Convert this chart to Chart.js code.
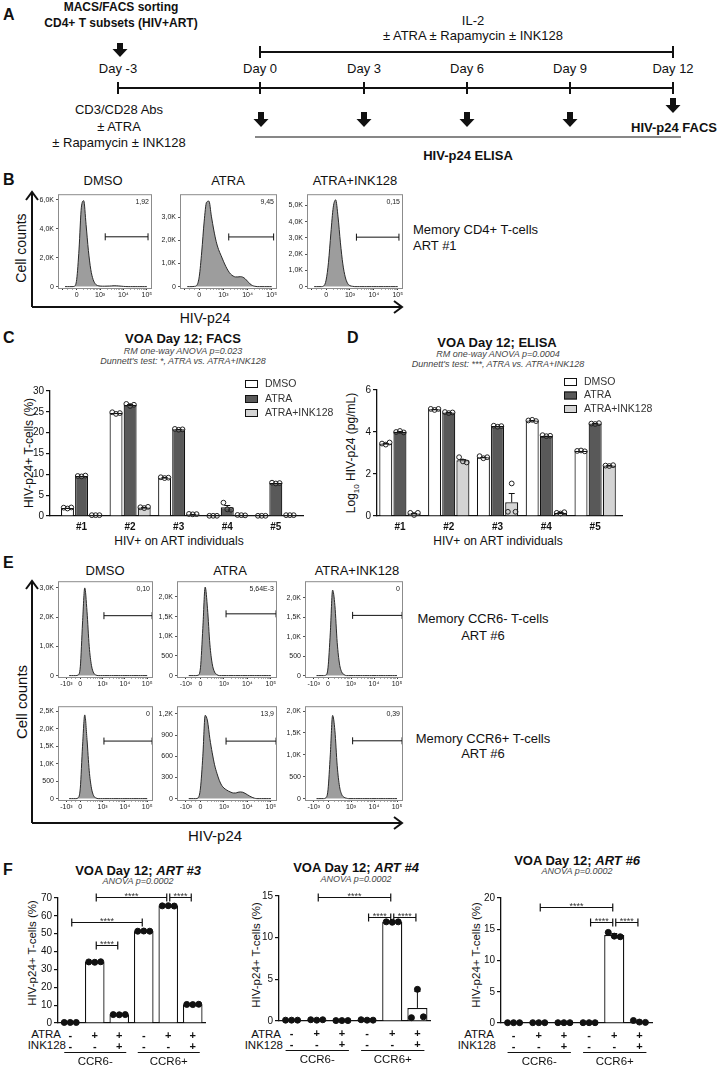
<!DOCTYPE html>
<html>
<head>
<meta charset="utf-8">
<title>ATRA / INK128 viral outgrowth</title>
<script src="https://cdn.jsdelivr.net/npm/chart.js@4.4.1/dist/chart.umd.min.js"></script>
<style>
  html, body { margin: 0; padding: 0; background: #fff; }
  #fig { position: relative; width: 718px; height: 1065px; overflow: hidden;
         font-family: "Liberation Sans", Arial, sans-serif; color: #111; }
  #fig canvas, #fig svg { position: absolute; }
  .t { position: absolute; white-space: nowrap; line-height: 1; transform: translate(-50%, -50%); font-size: 13px; }
  .t.l { transform: translate(0, -50%); }
  .t.r { transform: translate(-100%, -50%); }
  .t.v { transform: translate(-50%, -50%) rotate(-90deg); }
  .b { font-weight: bold; }
  .pl { font-weight: bold; font-size: 16px; }
  .st { font-style: italic; font-size: 9px; color: #444; }
  .ti { font-weight: bold; font-size: 13px; }
  .ax { font-size: 12px; }
  .sm { font-size: 11.5px; }
</style>
</head>
<body>
<div id="fig">

<svg width="718" height="1065" style="left:0;top:0" fill="none" stroke="#111">
  <!-- A: timeline -->
  <line x1="118" y1="88" x2="673" y2="88" stroke-width="2"/>
  <path d="M118 82V94M260 82V94M364 82V94M467 82V94M570 82V94M673 82V94" stroke-width="2"/>
  <line x1="260" y1="52" x2="673" y2="52" stroke-width="2"/>
  <path d="M260 46V58M673 46V58" stroke-width="2"/>
  <line x1="255" y1="137" x2="681" y2="137" stroke-width="1.2"/>
  <g fill="#111" stroke="none">
    <path d="M117 43H123V49H127.5L120 57L112.5 49H117Z"/>
    <path d="M258 112H264V119H268.5L261 127L253.5 119H258Z"/>
    <path d="M361 112H367V119H371.5L364 127L356.5 119H361Z"/>
    <path d="M464 112H470V119H474.5L467 127L459.5 119H464Z"/>
    <path d="M567 112H573V119H577.5L570 127L562.5 119H567Z"/>
    <path d="M670 98H676V105H680.5L673 113L665.5 105H670Z"/>
  </g>
  <!-- B and E: big axis arrows -->
  <path d="M32 307V193M26 200L32 192L38 200M32 307H402M394 301L402 307L394 313" stroke-width="2"/>
  <path d="M32 823V582M26 589L32 581L38 589M32 823H402M394 817L402 823L394 829" stroke-width="2"/>
</svg>

<!-- A -->
<div class="t l pl" style="left:3px;top:15px">A</div>
<div class="t b" style="left:121px;top:7px;font-size:12px">MACS/FACS sorting</div>
<div class="t b" style="left:121px;top:23px;font-size:12px">CD4+ T subsets (HIV+ART)</div>
<div class="t" style="left:473px;top:20px">IL-2</div>
<div class="t" style="left:473px;top:35px">± ATRA ± Rapamycin ± INK128</div>
<div class="t" style="left:118px;top:68px">Day -3</div>
<div class="t" style="left:260px;top:68px">Day 0</div>
<div class="t" style="left:364px;top:68px">Day 3</div>
<div class="t" style="left:467px;top:68px">Day 6</div>
<div class="t" style="left:570px;top:68px">Day 9</div>
<div class="t" style="left:673px;top:68px">Day 12</div>
<div class="t" style="left:119px;top:109px">CD3/CD28 Abs</div>
<div class="t" style="left:119px;top:126px">± ATRA</div>
<div class="t" style="left:119px;top:142px">± Rapamycin ± INK128</div>
<div class="t r b" style="left:717px;top:127px">HIV-p24 FACS</div>
<div class="t b" style="left:468px;top:155px">HIV-p24 ELISA</div>

<!-- B -->
<div class="t l pl" style="left:3px;top:180px">B</div>
<div class="t" style="left:103px;top:180px">DMSO</div>
<div class="t" style="left:228px;top:180px">ATRA</div>
<div class="t" style="left:355px;top:180px">ATRA+INK128</div>
<div class="t v" style="left:21px;top:248px;font-size:14px">Cell counts</div>
<div class="t" style="left:205px;top:318px;font-size:14px">HIV-p24</div>
<div class="t l" style="left:413px;top:229px">Memory CD4+ T-cells</div>
<div class="t l" style="left:413px;top:245px">ART #1</div>

<!-- C -->
<div class="t l pl" style="left:3px;top:338px">C</div>
<div class="t ti" style="left:183px;top:338px">VOA Day 12; FACS</div>
<div class="t st" style="left:183px;top:351px">RM one-way ANOVA p=0.023</div>
<div class="t st" style="left:183px;top:361px">Dunnett's test: *, ATRA vs. ATRA+INK128</div>
<div class="t v ax" style="left:29px;top:453px">HIV-p24+ T-cells (%)</div>
<div class="t ax" style="left:179px;top:541px">HIV+ on ART individuals</div>

<!-- D -->
<div class="t l pl" style="left:347px;top:338px">D</div>
<div class="t ti" style="left:497px;top:342px">VOA Day 12; ELISA</div>
<div class="t st" style="left:498px;top:354px">RM one-way ANOVA p=0.0004</div>
<div class="t st" style="left:498px;top:364px">Dunnett's test: ***, ATRA vs. ATRA+INK128</div>
<div class="t v ax" style="left:353px;top:453px">Log<sub style="font-size:8px">10</sub> HIV-p24 (pg/mL)</div>
<div class="t ax" style="left:498px;top:541px">HIV+ on ART individuals</div>

<!-- E -->
<div class="t l pl" style="left:3px;top:563px">E</div>
<div class="t" style="left:105px;top:570px">DMSO</div>
<div class="t" style="left:230px;top:570px">ATRA</div>
<div class="t" style="left:357px;top:570px">ATRA+INK128</div>
<div class="t v" style="left:21px;top:702px;font-size:15px">Cell counts</div>
<div class="t" style="left:215px;top:835px;font-size:15px">HIV-p24</div>
<div class="t" style="left:483px;top:618px">Memory CCR6- T-cells</div>
<div class="t" style="left:483px;top:635px">ART #6</div>
<div class="t" style="left:483px;top:738px">Memory CCR6+ T-cells</div>
<div class="t" style="left:483px;top:753px">ART #6</div>

<!-- F -->
<div class="t l pl" style="left:3px;top:870px">F</div>
<div class="t ti" style="left:138px;top:870px">VOA Day 12; <i>ART #3</i></div>
<div class="t st" style="left:138px;top:881px">ANOVA p=0.0002</div>
<div class="t ti" style="left:356px;top:867px">VOA Day 12; <i>ART #4</i></div>
<div class="t st" style="left:356px;top:879px">ANOVA p=0.0002</div>
<div class="t ti" style="left:577px;top:860px">VOA Day 12; <i>ART #6</i></div>
<div class="t st" style="left:577px;top:871px">ANOVA p=0.0002</div>
<div class="t v sm" style="left:33px;top:953px">HIV-p24+ T-cells (%)</div>
<div class="t v sm" style="left:257px;top:955px">HIV-p24+ T-cells (%)</div>
<div class="t v sm" style="left:477px;top:955px">HIV-p24+ T-cells (%)</div>
<div class="t r sm" style="left:61px;top:1035px">ATRA</div>
<div class="t r sm" style="left:66px;top:1046px">INK128</div>
<div class="t r sm" style="left:281px;top:1035px">ATRA</div>
<div class="t r sm" style="left:283px;top:1046px">INK128</div>
<div class="t r sm" style="left:494px;top:1035px">ATRA</div>
<div class="t r sm" style="left:496px;top:1046px">INK128</div>

</div>

<script>
// ---------- B / E: HIV-p24 histograms ----------
// x = position on the biexponential HIV-p24 axis (0 -> 0, 1 -> 10^3, 2 -> 10^4, 3 -> 10^5)
const p24Grid = [-0.5, -0.4, -0.3, -0.2, -0.1, 0, 0.1, 0.2, 0.3, 0.4, 0.5, 0.6, 0.7, 0.8, 0.9,
                 1.0, 1.1, 1.2, 1.3, 1.4, 1.5, 1.6, 1.7, 1.8, 1.9, 2.0, 2.1, 2.2, 2.3, 2.4,
                 2.5, 2.6, 2.7, 2.8, 2.9, 3.0];
const p24TickPos = [-0.62, 0, 1, 2, 3];
const p24TickText = ['-10³', '0', '10³', '10⁴', '10⁵'];

// memory CD4+ T-cells, ART #1 (cell counts)
const cd4Dmso = [0, 0, 0, 0, 20, 500, 2600, 5500, 5950, 4300, 2500, 1200, 500, 180, 70,
                 40, 30, 30, 35, 40, 50, 60, 55, 45, 30, 15, 5, 0, 0, 0, 0, 0, 0, 0, 0, 0];
const cd4Atra = [0, 0, 0, 10, 60, 450, 1500, 2800, 3650, 3700, 3050, 2450, 1950, 1600, 1350,
                 1100, 870, 680, 540, 460, 420, 420, 430, 410, 340, 230, 120, 50, 15, 0, 0, 0, 0, 0, 0, 0];
const cd4Ink = [0, 0, 0, 0, 40, 400, 1500, 3300, 4900, 5350, 4300, 2700, 1400, 600, 200,
                60, 20, 0, 0, 0, 0, 0, 0, 0, 0, 0, 0, 0, 0, 0, 0, 0, 0, 0, 0, 0];
const cd4YMax = [6400, 4000, 5700];
const cd4YTicks = [[0, 2000, 4000, 6000], [0, 1000, 2000, 3000], [0, 1000, 2000, 3000, 4000, 5000]];
const cd4Gates = [[1.22, 3.05, 3450], [1.22, 3.08, 2150], [1.27, 3.05, 3050]];
const cd4GateText = ['1,92', '9,45', '0,15'];

// memory CCR6- / CCR6+ T-cells, ART #6 (cell counts)
const ccr6nDmso = [0, 0, 0, 0, 20, 300, 1800, 3000, 2200, 1000, 350, 90, 20, 0, 0,
                   0, 0, 0, 0, 0, 0, 0, 0, 0, 0, 0, 0, 0, 0, 0, 0, 0, 0, 0, 0, 0];
const ccr6nAtra = [0, 0, 0, 0, 10, 200, 1200, 2250, 1700, 800, 300, 90, 25, 0, 0,
                   0, 0, 0, 0, 0, 0, 0, 0, 0, 0, 0, 0, 0, 0, 0, 0, 0, 0, 0, 0, 0];
const ccr6nInk = [0, 0, 0, 0, 10, 200, 1100, 2200, 1800, 850, 300, 90, 25, 0, 0,
                  0, 0, 0, 0, 0, 0, 0, 0, 0, 0, 0, 0, 0, 0, 0, 0, 0, 0, 0, 0, 0];
const ccr6pDmso = [0, 0, 0, 0, 20, 300, 1500, 2400, 1700, 800, 300, 80, 20, 0, 0,
                   0, 0, 0, 0, 0, 0, 0, 0, 0, 0, 0, 0, 0, 0, 0, 0, 0, 0, 0, 0, 0];
const ccr6pAtra = [0, 0, 0, 0, 10, 150, 600, 1180, 1100, 850, 650, 480, 360, 260, 190,
                   150, 125, 105, 90, 80, 80, 90, 95, 90, 75, 55, 35, 18, 6, 0, 0, 0, 0, 0, 0, 0];
const ccr6pInk = [0, 0, 0, 0, 15, 200, 1000, 1900, 1550, 750, 280, 90, 30, 10, 0,
                  0, 0, 0, 0, 0, 0, 0, 0, 0, 0, 0, 0, 0, 0, 0, 0, 0, 0, 0, 0, 0];
const ccr6YMax = [3230, 2400, 2430, 2650, 1310, 2110];
const ccr6YTicks = [[0, 1000, 2000, 3000], [0, 500, 1000, 1500, 2000], [0, 500, 1000, 1500, 2000],
                    [0, 500, 1000, 1500, 2000, 2500], [0, 300, 600, 900, 1200], [0, 500, 1000, 1500, 2000]];
const ccr6Gates = [[1.06, 3.22, 2050], [1.09, 3.22, 1570], [1.07, 3.22, 1550],
                   [1.06, 3.22, 1650], [1.09, 3.22, 815], [1.07, 3.22, 1320]];
const ccr6GateText = ['0,10', '5,64E-3', '0', '0', '13,9', '0,39'];

// ---------- C / D: viral outgrowth per individual ----------
const individuals = ['#1', '#2', '#3', '#4', '#5'];
const treatments = ['DMSO', 'ATRA', 'ATRA+INK128'];

// C: % HIV-p24+ T-cells (bar = mean, dots = triplicates)
const facsDmso = [1.95, 24.7, 9.2, 0.05, 0.05];
const facsAtra = [9.6, 26.65, 20.8, 2.1, 7.9];
const facsInk = [0.2, 2.05, 0.45, 0.2, 0.2];
const facsDmsoReps = [[2.0, 1.8, 2.05], [24.9, 24.5, 24.7], [9.3, 9.1, 9.2], [0.05, 0.05, 0.05], [0.05, 0.05, 0.05]];
const facsAtraReps = [[9.6, 9.5, 9.7], [26.9, 26.4, 26.7], [20.9, 20.7, 20.8], [3.2, 1.6, 1.5], [8.0, 7.8, 7.9]];
const facsInkReps = [[0.2, 0.2, 0.2], [2.1, 1.9, 2.2], [0.5, 0.4, 0.45], [0.25, 0.2, 0.15], [0.2, 0.2, 0.2]];
const facsDmsoSem = [0.08, 0.12, 0.06, 0, 0];
const facsAtraSem = [0.06, 0.15, 0.06, 0.55, 0.06];
const facsInkSem = [0, 0.09, 0.03, 0.03, 0];
const facsTicks = [0, 5, 10, 15, 20, 25, 30];

// D: log10 HIV-p24 (pg/mL)
const elisaDmso = [3.45, 5.08, 2.8, 4.55, 3.1];
const elisaAtra = [4.01, 4.93, 4.28, 3.82, 4.4];
const elisaInk = [0.12, 2.65, 0.65, 0.15, 2.4];
const elisaDmsoReps = [[3.45, 3.4, 3.5], [5.1, 5.05, 5.1], [2.85, 2.75, 2.8], [4.55, 4.58, 4.52], [3.1, 3.12, 3.08]];
const elisaAtraReps = [[4.0, 4.05, 3.98], [4.95, 4.9, 4.93], [4.3, 4.25, 4.28], [3.85, 3.8, 3.82], [4.4, 4.38, 4.42]];
const elisaInkReps = [[0.15, 0.05, 0.15], [2.8, 2.6, 2.55], [0.2, 1.55, 0.2], [0.15, 0.12, 0.18], [2.4, 2.38, 2.42]];
const elisaDmsoSem = [0.03, 0.02, 0.03, 0.02, 0.01];
const elisaAtraSem = [0.02, 0.01, 0.01, 0.01, 0.01];
const elisaInkSem = [0.03, 0.08, 0.45, 0.02, 0.01];
const elisaTicks = [0, 2, 4, 6];

// ---------- F: CCR6- / CCR6+ subsets ----------
const ccr6Groups = ['CCR6-', 'CCR6+'];
const atraSigns = ['-', '+', '+', '-', '+', '+'];
const inkSigns = ['-', '-', '+', '-', '-', '+'];

const art3Mean = [0.3, 34.1, 4.7, 51.4, 65.6, 10.4];
const art3Reps = [[0.3, 0.3, 0.3], [34.2, 34.0, 34.3], [4.7, 4.6, 4.7], [51.4, 51.5, 51.4], [65.6, 65.7, 65.5], [10.4, 10.3, 10.5]];
const art3Err = [0, 0.1, 0.05, 0.05, 0.1, 0.1];
const art3Ticks = [0, 10, 20, 30, 40, 50, 60, 70];
const art3Brackets = [[1, 4, 70.8], [4, 5, 70.8], [0, 3, 56.7], [1, 2, 43.8]];

const art4Mean = [0.1, 0.13, 0.05, 0.12, 11.88, 1.57];
const art4Reps = [[0.1, 0.1, 0.1], [0.15, 0.1, 0.15], [0.05, 0.05, 0.05], [0.15, 0.1, 0.1], [11.9, 11.85, 11.9], [0.4, 3.8, 0.5]];
const art4Err = [0, 0, 0, 0, 0.03, 2.05];
const art4Ticks = [0, 5, 10, 15];
const art4Brackets = [[1, 4, 14.9], [3, 4, 12.5], [4, 5, 12.5]];

const art6Mean = [0.05, 0.05, 0.05, 0.05, 14.07, 0.22];
const art6Reps = [[0.05, 0.05, 0.05], [0.05, 0.05, 0.05], [0.05, 0.05, 0.05], [0.05, 0.05, 0.05], [14.5, 13.9, 13.8], [0.4, 0.15, 0.1]];
const art6Err = [0, 0, 0, 0, 0.38, 0.16];
const art6Ticks = [0, 5, 10, 15, 20];
const art6Brackets = [[1, 4, 18.6], [3, 4, 16.2], [4, 5, 16.2]];

// ---------- styles ----------
const FONT = '"Liberation Sans", Arial, sans-serif';
Chart.defaults.font.family = FONT;
Chart.defaults.color = '#111';
const treatmentColors = ['#ffffff', '#595959', '#d4d4d4'];
const openDot = { r: 2.4, gap: 3.8, fill: null, stroke: '#222', w: 1 };
const solidDot = { r: 3, gap: 6, fill: '#111', stroke: '#111', w: 1 };

// minor ticks of the HIV-p24 axis
const p24Minor = [-0.2, -0.4];
[0, 1, 2].forEach(k => [2, 3, 4, 5, 6, 7, 8, 9].forEach(n => p24Minor.push(k + Math.log10(n))));
const p24AllTicks = p24TickPos.concat(p24Minor).sort((a, b) => a - b);

const countLabel = v => v === 0 ? '0' : v < 1000 ? String(v) : (v / 1000).toFixed(1).replace('.', ',') + 'K';

function addCanvas(id, area, m) {
  const c = document.createElement('canvas');
  c.id = id;
  c.width = area.r - area.l + m.l + m.r;
  c.height = area.b - area.t + m.t + m.b;
  c.style.left = (area.l - m.l) + 'px';
  c.style.top = (area.t - m.t) + 'px';
  document.getElementById('fig').appendChild(c);
  return c;
}

function baseOptions(m) {
  return {
    responsive: false, animation: false, events: [], devicePixelRatio: 1,
    layout: { padding: { top: m.t, right: m.r, left: 0, bottom: 0 } },
    plugins: { legend: { display: false }, tooltip: { enabled: false } }
  };
}

// frame and gate frequency for a FACS overlay
function facsFrame(text) {
  return {
    id: 'facsFrame',
    afterDraw(chart) {
      const { ctx, chartArea: a } = chart;
      ctx.save();
      ctx.strokeStyle = '#8c8c8c';
      ctx.lineWidth = 1;
      ctx.strokeRect(a.left + 0.5, a.top + 0.5, a.right - a.left - 1, a.bottom - a.top);
      ctx.fillStyle = '#222';
      ctx.font = '7px ' + FONT;
      ctx.textAlign = 'right';
      ctx.textBaseline = 'middle';
      ctx.fillText(text, a.right - 3, a.top + 8);
      ctx.restore();
    }
  };
}

function histogram(id, area, xr, counts, yMax, yTicks, gate, gateText, showNeg) {
  const m = { l: 32, t: 6, r: 6, b: 20 };
  return new Chart(addCanvas(id, area, m), {
    type: 'line',
    data: {
      datasets: [
        { data: p24Grid.map((x, i) => ({ x, y: counts[i] })), fill: 'origin',
          backgroundColor: '#9d9d9d', borderColor: '#2a2a2a', borderWidth: 1,
          pointRadius: 0, cubicInterpolationMode: 'monotone' },
        { data: [{ x: gate[0], y: gate[2] }, { x: gate[1], y: gate[2] }], fill: false,
          borderColor: '#111', borderWidth: 1, pointStyle: 'line', pointRotation: 90,
          pointRadius: 3.5, pointBorderColor: '#111', pointBorderWidth: 1 }
      ]
    },
    options: Object.assign(baseOptions(m), {
      scales: {
        x: {
          type: 'linear', min: xr[0], max: xr[1],
          afterBuildTicks: s => { s.ticks = p24AllTicks.map(v => ({ value: v })); },
          afterFit: s => { s.height = m.b; },
          ticks: {
            autoSkip: false, maxRotation: 0, padding: 1, font: { size: 7 }, color: '#222',
            callback: v => {
              const k = p24TickPos.indexOf(v);
              if (k < 0 || (k === 0 && !showNeg)) return '';
              return p24TickText[k];
            }
          },
          grid: { drawOnChartArea: false, tickLength: 2,
                  color: c => (c.tick && p24TickPos.includes(c.tick.value)) ? '#333' : '#aaa' },
          border: { display: false }
        },
        y: {
          min: -yMax * 0.015, max: yMax,
          afterBuildTicks: s => { s.ticks = yTicks.map(v => ({ value: v })); },
          afterFit: s => { s.width = m.l; },
          ticks: { autoSkip: false, padding: 2, font: { size: 7 }, color: '#222', callback: countLabel },
          grid: { drawOnChartArea: false, tickLength: 2, color: '#555' },
          border: { display: false }
        }
      }
    }),
    plugins: [facsFrame(gateText)]
  });
}

function valueAxis(max, ticks, width) {
  return {
    min: 0, max,
    afterBuildTicks: s => { s.ticks = ticks.map(v => ({ value: v })); },
    afterFit: s => { s.width = width; },
    ticks: { autoSkip: false, padding: 2, font: { size: 10 }, color: '#111' },
    grid: { drawOnChartArea: false, tickLength: 4, color: '#111', lineWidth: 1.2 },
    border: { display: true, color: '#111', width: 1.3 }
  };
}

// replicate dots and upper error bars on top of each bar
function dotsPlugin(reps, errs, dot) {
  return {
    id: 'dots',
    afterDatasetsDraw(chart) {
      const ctx = chart.ctx, y = chart.scales.y;
      ctx.save();
      reps.forEach((series, d) => {
        const meta = chart.getDatasetMeta(d);
        series.forEach((vals, i) => {
          const bar = meta.data[i];
          const raw = chart.data.datasets[d].data[i];
          const mean = typeof raw === 'object' ? raw.y : raw;
          if (errs[d][i] > 0) {
            const top = Math.round(y.getPixelForValue(mean + errs[d][i])) + 0.5;
            ctx.strokeStyle = '#111';
            ctx.lineWidth = 1;
            ctx.beginPath();
            ctx.moveTo(bar.x, bar.y);
            ctx.lineTo(bar.x, top);
            ctx.moveTo(bar.x - 3, top);
            ctx.lineTo(bar.x + 3, top);
            ctx.stroke();
          }
          vals.forEach((v, k) => {
            ctx.beginPath();
            ctx.arc(bar.x + (k - 1) * dot.gap, y.getPixelForValue(v), dot.r, 0, Math.PI * 2);
            if (dot.fill) { ctx.fillStyle = dot.fill; ctx.fill(); }
            ctx.strokeStyle = dot.stroke;
            ctx.lineWidth = dot.w;
            ctx.stroke();
          });
        });
      });
      ctx.restore();
    }
  };
}

function keyPlugin(pos) {
  return {
    id: 'key',
    afterDraw(chart) {
      const ctx = chart.ctx;
      ctx.save();
      ctx.font = '10.5px ' + FONT;
      ctx.textBaseline = 'middle';
      chart.data.datasets.forEach((ds, i) => {
        const cy = pos.rows[i];
        ctx.fillStyle = ds.backgroundColor;
        ctx.fillRect(pos.x, cy - 4, 13, 8);
        ctx.strokeStyle = '#111';
        ctx.lineWidth = 1;
        ctx.strokeRect(pos.x + 0.5, cy - 3.5, 12, 7);
        ctx.fillStyle = '#333';
        ctx.fillText(ds.label, pos.x + 20, cy);
      });
      ctx.restore();
    }
  };
}

function bracketPlugin(brackets) {
  return {
    id: 'brackets',
    afterDatasetsDraw(chart) {
      const ctx = chart.ctx, x = chart.scales.x, y = chart.scales.y;
      ctx.save();
      ctx.strokeStyle = '#111';
      ctx.lineWidth = 1.2;
      ctx.fillStyle = '#333';
      ctx.font = '9px ' + FONT;
      ctx.textAlign = 'center';
      brackets.forEach(([a, b, v]) => {
        const x1 = x.getPixelForValue(a) + 1.5, x2 = x.getPixelForValue(b) - 1.5;
        const py = Math.round(y.getPixelForValue(v)) + 0.5;
        ctx.beginPath();
        ctx.moveTo(x1, py); ctx.lineTo(x2, py);
        ctx.moveTo(x1, py - 4); ctx.lineTo(x1, py + 4);
        ctx.moveTo(x2, py - 4); ctx.lineTo(x2, py + 4);
        ctx.stroke();
        ctx.fillText('****', (x1 + x2) / 2, py + 1);
      });
      ctx.restore();
    }
  };
}

// CCR6- / CCR6+ underlines below the +/- rows
function groupPlugin() {
  return {
    id: 'groups',
    afterDraw(chart) {
      const ctx = chart.ctx, x = chart.scales.x, base = chart.chartArea.bottom;
      ctx.save();
      ctx.strokeStyle = '#111';
      ctx.lineWidth = 1;
      ctx.fillStyle = '#111';
      ctx.font = '11.5px ' + FONT;
      ctx.textAlign = 'center';
      ctx.textBaseline = 'middle';
      ccr6Groups.forEach((name, g) => {
        const x1 = x.getPixelForValue(g * 3) - 6, x2 = x.getPixelForValue(g * 3 + 2) + 7;
        ctx.beginPath();
        ctx.moveTo(x1, base + 29.5); ctx.lineTo(x2, base + 29.5);
        ctx.stroke();
        ctx.fillText(name, (x1 + x2) / 2, base + 38.5);
      });
      ctx.restore();
    }
  };
}

function outgrowthChart(id, area, m, means, reps, errs, yMax, yTicks, xr, key) {
  return new Chart(addCanvas(id, area, m), {
    type: 'bar',
    data: {
      datasets: treatments.map((name, d) => ({
        label: name,
        data: means[d].map((v, i) => ({ x: i + 1, y: v })),
        backgroundColor: treatmentColors[d], borderColor: '#111', borderWidth: 1.2,
        categoryPercentage: 0.87, barPercentage: 0.92
      }))
    },
    options: Object.assign(baseOptions(m), {
      scales: {
        x: {
          type: 'linear', offset: false, min: xr[0], max: xr[1],
          afterBuildTicks: s => { s.ticks = individuals.map((_, i) => ({ value: i + 1 })); },
          afterFit: s => { s.height = m.b; },
          ticks: { autoSkip: false, maxRotation: 0, padding: 5, font: { size: 10, weight: 'bold' },
                   color: '#111', callback: v => individuals[v - 1] },
          grid: { display: false, drawTicks: false, tickLength: 0 },
          border: { display: true, color: '#111', width: 1.3 }
        },
        y: valueAxis(yMax, yTicks, m.l)
      }
    }),
    plugins: [dotsPlugin(reps, errs, openDot), keyPlugin(key)]
  });
}

function ccr6Chart(id, area, m, means, reps, errs, yMax, yTicks, brackets) {
  return new Chart(addCanvas(id, area, m), {
    type: 'bar',
    data: {
      labels: atraSigns.map((a, i) => [a, inkSigns[i]]),
      datasets: [{ data: means, backgroundColor: '#fff', borderColor: '#111', borderWidth: 1.3,
                   categoryPercentage: 0.8, barPercentage: 1 }]
    },
    options: Object.assign(baseOptions(m), {
      scales: {
        x: {
          afterFit: s => { s.height = m.b; },
          ticks: { autoSkip: false, maxRotation: 0, padding: 7,
                   font: { size: 11, weight: 'bold', lineHeight: 1 }, color: '#111' },
          grid: { display: false, drawTicks: false, tickLength: 0 },
          border: { display: true, color: '#111', width: 1.3 }
        },
        y: valueAxis(yMax, yTicks, m.l)
      }
    }),
    plugins: [dotsPlugin([reps], [errs], solidDot), bracketPlugin(brackets), groupPlugin()]
  });
}

// ---------- B ----------
const bRange = [-0.8, 3.22];
const cd4Series = [cd4Dmso, cd4Atra, cd4Ink];
const cd4Areas = [{ l: 58, r: 152 }, { l: 180, r: 277 }, { l: 307, r: 403 }];
cd4Series.forEach((s, i) => histogram('b' + i, Object.assign({ t: 194, b: 288 }, cd4Areas[i]), bRange,
  s, cd4YMax[i], cd4YTicks[i], cd4Gates[i], cd4GateText[i], false));

// ---------- E ----------
const eRange = [-1.0, 3.26];
const ccr6Series = [ccr6nDmso, ccr6nAtra, ccr6nInk, ccr6pDmso, ccr6pAtra, ccr6pInk];
const eCols = [{ l: 58, r: 153 }, { l: 177, r: 277 }, { l: 305, r: 403 }];
const eRows = [{ t: 581, b: 677 }, { t: 706, b: 800 }];
ccr6Series.forEach((s, i) => histogram('e' + i, Object.assign({}, eRows[Math.floor(i / 3)], eCols[i % 3]), eRange,
  s, ccr6YMax[i], ccr6YTicks[i], ccr6Gates[i], ccr6GateText[i], true));

// ---------- C and D ----------
outgrowthChart('c', { l: 50, t: 391, r: 303, b: 516 }, { l: 50, t: 21, r: 42, b: 34 },
  [facsDmso, facsAtra, facsInk], [facsDmsoReps, facsAtraReps, facsInkReps],
  [facsDmsoSem, facsAtraSem, facsInkSem], 30, facsTicks, [0.35, 5.56],
  { x: 245, rows: [14, 29, 43] });

outgrowthChart('d', { l: 377, t: 390, r: 622, b: 516 }, { l: 32, t: 20, r: 94, b: 34 },
  [elisaDmso, elisaAtra, elisaInk], [elisaDmsoReps, elisaAtraReps, elisaInkReps],
  [elisaDmsoSem, elisaAtraSem, elisaInkSem], 6, elisaTicks, [0.53, 5.55],
  { x: 219, rows: [12, 25.5, 39] });

// ---------- F ----------
ccr6Chart('f3', { l: 58, t: 898, r: 205, b: 1023 }, { l: 40, t: 14, r: 10, b: 42 },
  art3Mean, art3Reps, art3Err, 70, art3Ticks, art3Brackets);
ccr6Chart('f4', { l: 279, t: 896, r: 430, b: 1021 }, { l: 40, t: 12, r: 10, b: 44 },
  art4Mean, art4Reps, art4Err, 15, art4Ticks, art4Brackets);
ccr6Chart('f6', { l: 501, t: 898, r: 652, b: 1023 }, { l: 40, t: 14, r: 10, b: 42 },
  art6Mean, art6Reps, art6Err, 20, art6Ticks, art6Brackets);
</script>
</body>
</html>
